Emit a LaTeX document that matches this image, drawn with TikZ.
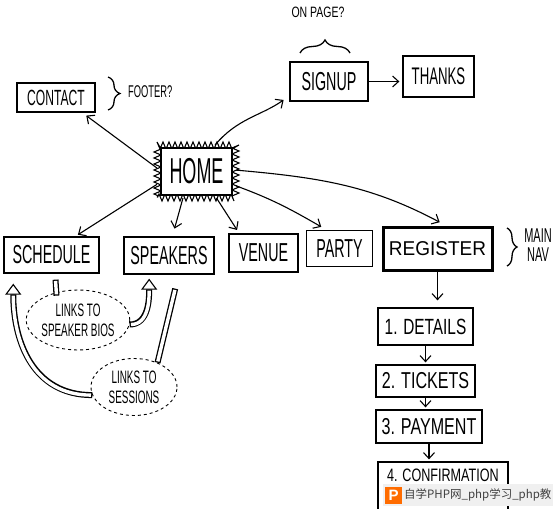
\documentclass[tikz,border=0pt]{standalone}
\usepackage{fontspec}
\newfontfamily\hand[FakeStretch=0.55]{Liberation Sans}
\newfontfamily\handm[FakeStretch=0.7]{Liberation Sans}
\newfontfamily\handn[FakeStretch=0.5]{Liberation Sans}
\newfontfamily\handw[FakeStretch=0.95]{Liberation Sans}
\newfontfamily\cjk{Noto Sans CJK SC}
\usetikzlibrary{arrows.meta,calc,decorations.pathreplacing,decorations.pathmorphing,shapes.geometric}
\newcommand\hsz[2]{\hand\fontsize{#1}{#2}\selectfont}
\newcommand\hszm[2]{\handm\fontsize{#1}{#2}\selectfont}
\begin{document}
\begin{tikzpicture}[x=1pt,y=1pt,
  box/.style={draw,line width=1.3pt,inner sep=0pt,align=center},
  arr/.style={line width=1.1pt,-{Straight Barb[length=6pt,width=11pt]}},
  bubble/.style={draw,ellipse,dash pattern=on 3pt off 3pt,line width=0.9pt,inner sep=0pt,align=center,font={\hsz{18}{20}}},
  hollow/.style={line width=6pt,postaction={draw=white,line width=3.4pt,shorten <=1.3pt,shorten >=1.3pt}},
  hollowarr/.style={line width=6pt,-{Triangle[fill=white,length=11pt,width=16pt,line width=1.1pt]},
    postaction={draw=white,-,line width=3.4pt,shorten <=1.3pt,shorten >=12pt}},
  bracestyle/.style={line width=1.3pt,decorate},
  note/.style={inner sep=0pt,align=center}]
\useasboundingbox (0,0) rectangle (553,-508);
\fill[white] (0,0) rectangle (553,-508);
\clip (0,0) rectangle (553,-508);

% boxes
\node[box,minimum width=78,minimum height=29,font={\hsz{22}{24}}] (contact) at (56,-97.5) {CONTACT};
\node[draw,line width=1.1pt,decorate,decoration={zigzag,segment length=6pt,amplitude=3.5pt},minimum width=78,minimum height=52] (burst) at (196.5,-171.5) {};
\node[box,fill=white,minimum width=71,minimum height=47,font={\handn\fontsize{36}{38}\selectfont}] (home) at (196.5,-171.5) {HOME};
\node[box,minimum width=78,minimum height=39,font={\hsz{26}{28}}] (signup) at (329,-81.5) {SIGNUP};
\node[box,minimum width=71,minimum height=41,font={\hsz{24}{26}}] (thanks) at (438.5,-76.5) {THANKS};
\node[box,minimum width=95,minimum height=36,font={\hsz{26}{28}}] (schedule) at (51.5,-255) {SCHEDULE};
\node[box,minimum width=90,minimum height=37,font={\hsz{26}{28}}] (speakers) at (169,-255.5) {SPEAKERS};
\node[box,minimum width=69,minimum height=38,font={\hsz{26}{28}}] (venue) at (263.5,-253) {VENUE};
\node[box,minimum width=66,minimum height=36,font={\hsz{26}{28}}] (party) at (339.5,-248.5) {PARTY};
\node[box,line width=3pt,minimum width=109,minimum height=43,font={\handw\fontsize{20}{22}\selectfont}] (register) at (437.5,-248.5) {REGISTER};
\node[box,minimum width=95,minimum height=37,font={\hszm{22}{24}}] (details) at (425.5,-326.5) {1. DETAILS};
\node[box,minimum width=99,minimum height=32,font={\hszm{23}{25}}] (tickets) at (425.5,-381) {2. TICKETS};
\node[box,minimum width=106,minimum height=33,font={\hszm{23}{25}}] (payment) at (429,-426.5) {3. PAYMENT};
\node[box,minimum width=130,minimum height=56] (confirm) at (443,-490) {};
\node[note,font={\hszm{18}{20}}] (confirmtext) at (443,-475) {4. CONFIRMATION};

% notes and braces
\draw[bracestyle,decoration={brace,amplitude=12pt}] (108,-77) -- (108,-110);
\node[note,anchor=west,font={\hsz{17}{19}}] (footer) at (128,-92) {FOOTER?};
\draw[bracestyle,decoration={brace,amplitude=13pt}] (300,-53) -- (350,-53);
\node[note,font={\hszm{15}{17}}] (onpage) at (318,-12) {ON PAGE?};
\draw[bracestyle,decoration={brace,amplitude=10pt}] (507,-228) -- (507,-266);
\node[note,font={\hsz{20}{19}}] (mainnav) at (538,-245) {MAIN\\NAV};

% bubbles
\node[bubble,minimum width=96,minimum height=60] (bios) at (78,-320) {LINKS TO\\SPEAKER BIOS};
\node[bubble,minimum width=86,minimum height=57] (sessions) at (134,-387) {LINKS TO\\SESSIONS};

% arrows from home
\draw[arr,shorten >=5pt] (burst.175) -- (contact.-30);
\draw[arr,shorten >=7pt] (burst.55) to[out=50,in=215] (signup.200);
\draw[arr,shorten >=3pt] (burst.198) -- (schedule.38);
\draw[arr,shorten >=8pt] (burst.-117) -- (speakers.80);
\draw[arr,shorten >=4pt] (burst.-53) -- (venue.141);
\draw[arr,shorten >=6pt] (burst.-20) to[out=-20,in=150] (party.125);
\draw[arr,shorten >=7pt] (burst.2) to[out=-5,in=152] (register.70);
\draw[arr,shorten >=3pt] (signup.east) -- (signup.east -| thanks.west);

% registration flow
\draw[arr,shorten >=7pt] (register.south) -- (register.south |- details.north);
\draw[arr,shorten >=2pt] (details.south) -- (details.south |- tickets.north);
\draw[arr,shorten >=2pt] (tickets.south) -- (tickets.south |- payment.north);
\draw[arr,shorten >=2pt] (payment.south) -- (payment.south |- confirm.north);

% hollow links
\draw[hollow] ($(schedule.south)+(4,-6)$) -- ($(schedule.south)+(5,-22)$);
\draw[hollowarr] (bios.-5) to[out=0,in=-90] ($(speakers.-136)+(0,-4)$);
\draw[hollow] ($(speakers.-72)+(0,-14)$) -- (sessions.46);
\draw[hollowarr] (sessions.191) to[out=180,in=-90,looseness=1.1] ($(schedule.-154)+(0,-10)$);

% watermark
\fill[gray!12] (383,-484) rectangle (553,-506);
\node[fill=orange!85!red,minimum size=17pt,inner sep=0pt,text=white,font={\fontspec{Liberation Sans Bold}\fontsize{15}{15}\selectfont}] (wmicon) at (393.5,-495) {P};
\node[anchor=west,inner sep=0pt,text=black!75,font={\cjk\fontsize{11.5}{13}\selectfont}] (wmtext) at (404,-495) {自学PHP网\_php学习\_php教};
\end{tikzpicture}
\end{document}
